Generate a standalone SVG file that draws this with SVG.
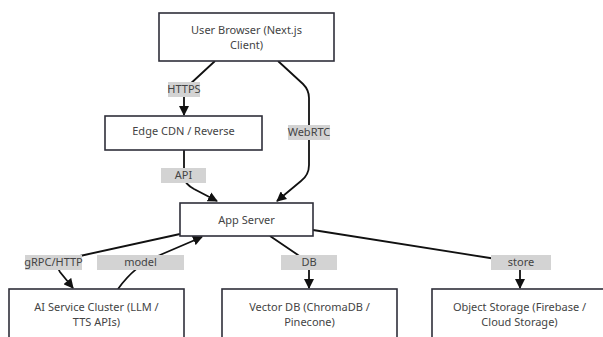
<svg xmlns="http://www.w3.org/2000/svg" width="603" height="337" viewBox="0 0 603 337">
<defs>
<style>
.node rect{fill:#fff;stroke:#2f2f3a;stroke-width:1.6}
.node text,.lbl text{font-family:"Noto Sans","Liberation Sans",sans-serif;font-size:11px;fill:#444;text-anchor:middle}
.edge{fill:none;stroke:#111;stroke-width:1.8}
.lbl rect{fill:#d3d3d3}
</style>
<marker id="arr" viewBox="0 0 10 10" refX="9" refY="5" markerWidth="10" markerHeight="10" markerUnits="userSpaceOnUse" orient="auto">
<path d="M0,0 L10,5 L0,10 z" fill="#111"/>
</marker>
</defs>
<rect width="603" height="337" fill="#fff"/>
<g id="connectors">
<path class="edge" d="M215,61 L188,86 Q184,90 184,96 L184,115" marker-end="url(#arr)"/>
<path class="edge" d="M278,61 L303,84 Q309,90 309,98 L309,165 Q309,175 301,181 L277,201" marker-end="url(#arr)"/>
<path class="edge" d="M184,150 L184,178 Q185,184 194,189 L217,201" marker-end="url(#arr)"/>
<path class="edge" d="M180,234 L80,256 Q53,262 60,272 L73,288" marker-end="url(#arr)"/>
<path class="edge" d="M118,289 Q135,265 160,255 L202,237" marker-end="url(#arr)"/>
<path class="edge" d="M270,236 L298,255 Q309,262 309,270 L309,288" marker-end="url(#arr)"/>
<path class="edge" d="M313,230 L490,258 Q520,263 520,270 L520,288" marker-end="url(#arr)"/>
<g class="lbl"><rect x="168" y="82" width="32" height="15"/><text x="184" y="93">HTTPS</text></g>
<g class="lbl"><rect x="288" y="125" width="42" height="15"/><text x="309" y="136">WebRTC</text></g>
<g class="lbl"><rect x="161" y="168" width="45" height="15"/><text x="183.5" y="179">API</text></g>
<g class="lbl"><rect x="25" y="255" width="57" height="15"/><text x="53.5" y="266">gRPC/HTTP</text></g>
<g class="lbl"><rect x="97" y="255" width="87" height="15"/><text x="140.5" y="266">model</text></g>
<g class="lbl"><rect x="281" y="255" width="56" height="15"/><text x="309" y="266">DB</text></g>
<g class="lbl"><rect x="491" y="255" width="60" height="15"/><text x="521" y="266">store</text></g>
</g>
<g id="browser" class="node"><rect x="159" y="13" width="175" height="48"/><text x="246.5" y="34">User Browser (Next.js</text><text x="246.5" y="49">Client)</text></g>
<g id="edgecdn" class="node"><rect x="105" y="116" width="157" height="34"/><text x="183.5" y="135">Edge CDN / Reverse</text></g>
<g id="appserver" class="node"><rect x="180" y="203" width="133" height="33"/><text x="246.5" y="224">App Server</text></g>
<g id="ai" class="node"><rect x="9" y="289" width="175" height="60"/><text x="96.5" y="311">AI Service Cluster (LLM /</text><text x="96.5" y="326">TTS APIs)</text></g>
<g id="vectordb" class="node"><rect x="222" y="289" width="175" height="60"/><text x="309.5" y="311">Vector DB (ChromaDB /</text><text x="309.5" y="326">Pinecone)</text></g>
<g id="objstore" class="node"><rect x="432" y="289" width="175" height="60"/><text x="519.5" y="311">Object Storage (Firebase /</text><text x="519.5" y="326">Cloud Storage)</text></g>
</svg>
